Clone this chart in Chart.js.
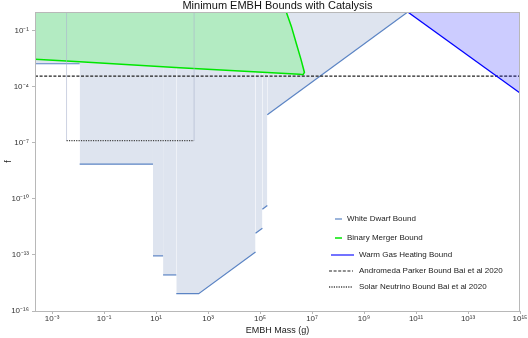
<!DOCTYPE html>
<html>
<head>
<meta charset="utf-8">
<script src="https://cdn.jsdelivr.net/npm/chart.js@4.4.1/dist/chart.umd.min.js"></script>
<style>
    html, body { margin: 0; padding: 0; background: #fff; }
    canvas { display: block; }
</style>
</head>
<body>
<canvas id="chart" width="528" height="338"></canvas>
<script>
// Values (mass in g, f dimensionless)
const xRange = [2.2e-4, 1e15];
const yRange = [1e-16, 1];
const xTicks = [1e-3, 1e-1, 1e1, 1e3, 1e5, 1e7, 1e9, 1e11, 1e13, 1e15];
const yTicks = [1e-16, 1e-13, 1e-10, 1e-7, 1e-4, 1e-1];

// White dwarf bound (step curve, region above is excluded)
const wdMass = [2.2e-4, 1.15e-2, 1.15e-2, 7.6, 7.6, 18.6, 18.6, 60, 60, 436, 6.7e4, 6.7e4, 1.23e5, 1.23e5, 1.9e5, 1.9e5, 4.8e10];
const wdF    = [1.7e-3, 1.7e-3, 7.2e-9, 7.2e-9, 8.9e-14, 8.9e-14, 8.5e-15, 8.5e-15, 8.5e-16, 8.5e-16, 1.45e-13, 1.45e-12, 2.7e-12, 2.8e-11, 4.4e-11, 3.2e-6, 1];

// Binary merger bound
const bmMass = [2.2e-4, 1.15e-2, 81, 3.3e6, 4.5e6, 5.1e6, 3.8e6, 2.45e6, 1.6e6, 1.02e6];
const bmF    = [3.0e-3, 2.2e-3, 1.05e-3, 4.6e-4, 4.4e-4, 5.8e-4, 2.75e-3, 2.2e-2, 0.17, 1];

// Warm gas heating bound
const wgMass = [4.8e10, 1e15];
const wgF    = [1, 4.6e-5];

// Andromeda Parker bound (Bai et al 2020)
const andMass = [2.2e-4, 1e15];
const andF    = [3.7e-4, 3.7e-4];

// Solar neutrino bound (Bai et al 2020), with its side edges
const solMass = [3.6e-3, 3.6e-3, 2.9e2, 2.9e2];
const solF    = [1, 1.3e-7, 1.3e-7, 1];

const FONT = "'Liberation Sans', Arial, sans-serif";

function pts(xs, ys) {
    return xs.map((x, i) => ({ x: x, y: ys[i] }));
}

const SUP = { '-': '\u207B', '0': '\u2070', '1': '\u00B9', '2': '\u00B2', '3': '\u00B3',
              '4': '\u2074', '5': '\u2075', '6': '\u2076', '7': '\u2077', '8': '\u2078', '9': '\u2079' };
function powLabel(v) {
    const e = Math.round(Math.log10(v));
    return '10' + String(e).split('').map(c => SUP[c]).join('');
}

function isVertical(ctx) {
    return ctx.p0.parsed.x === ctx.p1.parsed.x;
}

// Title, frame and the in-plot legend
const decorPlugin = {
    id: 'decor',
    afterDatasetsDraw(chart) {
        const ctx = chart.ctx;
        const a = chart.chartArea;
        ctx.save();
        ctx.strokeStyle = '#b8b8b8';
        ctx.lineWidth = 1;
        ctx.strokeRect(a.left + 0.5, a.top + 0.5, a.right - a.left - 1, a.bottom - a.top);

        // legend
        const rows = [
            { y: 219, x0: 335, x1: 342, tx: 347, color: '#5b84c4', width: 1.2, dash: [] },
            { y: 238, x0: 335, x1: 342, tx: 347, color: '#00e600', width: 1.5, dash: [] },
            { y: 255, x0: 331, x1: 354, tx: 359, color: 'rgba(90,90,255,0.85)', width: 2, dash: [] },
            { y: 271, x0: 329, x1: 353, tx: 359, color: '#222', width: 1.2, dash: [3, 1.6] },
            { y: 287, x0: 329, x1: 353, tx: 359, color: '#444', width: 1.3, dash: [1.2, 1.2] }
        ];
        const labels = ['White Dwarf Bound', 'Binary Merger Bound', 'Warm Gas Heating Bound',
                        'Andromeda Parker Bound Bai et al 2020', 'Solar Neutrino Bound Bai et al 2020'];
        ctx.font = '8px ' + FONT;
        ctx.textBaseline = 'middle';
        ctx.textAlign = 'left';
        rows.forEach((r, i) => {
            ctx.beginPath();
            ctx.setLineDash(r.dash);
            ctx.strokeStyle = r.color;
            ctx.lineWidth = r.width;
            ctx.moveTo(r.x0, r.y);
            ctx.lineTo(r.x1, r.y);
            ctx.stroke();
            ctx.fillStyle = '#222';
            ctx.fillText(labels[i], r.tx, r.y);
        });
        ctx.setLineDash([]);

        // title
        ctx.font = '11px ' + FONT;
        ctx.textAlign = 'center';
        ctx.fillStyle = '#111';
        ctx.fillText('Minimum EMBH Bounds with Catalysis', (a.left + a.right) / 2, 6);
        ctx.restore();
    }
};

// the merger region is closed along the top-left corner of the plot
const bmRegion = pts(bmMass, bmF).concat([{ x: xRange[0], y: yRange[1] }]);

const ctx = document.getElementById('chart').getContext('2d');
new Chart(ctx, {
    type: 'line',
    data: {
        datasets: [
            {
                label: 'White Dwarf Bound',
                data: pts(wdMass, wdF),
                borderColor: '#5b84c4',
                borderWidth: 1.2,
                backgroundColor: '#dee4ef',
                fill: 'end',
                order: 6,
                segment: {
                    borderColor: c => isVertical(c) ? 'rgba(0,0,0,0)' : undefined
                }
            },
            {
                label: 'Warm Gas Heating Bound',
                data: pts(wgMass, wgF),
                borderColor: '#0000ff',
                borderWidth: 1.3,
                backgroundColor: 'rgba(0,0,255,0.2)',
                fill: 'end',
                order: 1
            },
            {
                label: 'Binary Merger region',
                data: bmRegion,
                borderWidth: 0,
                borderColor: 'rgba(0,0,0,0)',
                backgroundColor: '#b3ebc2',
                fill: 'shape',
                order: 5
            },
            {
                label: 'Binary Merger Bound',
                data: pts(bmMass, bmF),
                borderColor: '#00e600',
                borderWidth: 1.5,
                fill: false,
                order: 4
            },
            {
                label: 'Andromeda Parker Bound Bai et al 2020',
                data: pts(andMass, andF),
                borderColor: '#222',
                borderWidth: 1.2,
                borderDash: [3, 1.6],
                fill: false,
                order: 2
            },
            {
                label: 'Solar Neutrino Bound Bai et al 2020',
                data: pts(solMass, solF),
                borderColor: '#444',
                borderWidth: 1.3,
                borderDash: [1.2, 1.2],
                fill: false,
                order: 3,
                segment: {
                    borderColor: c => isVertical(c) ? 'rgba(170,180,205,0.6)' : undefined,
                    borderDash: c => isVertical(c) ? [] : undefined,
                    borderWidth: c => isVertical(c) ? 1 : undefined
                }
            }
        ]
    },
    options: {
        responsive: false,
        animation: false,
        devicePixelRatio: 1,
        elements: {
            point: { radius: 0, hoverRadius: 0 },
            line: { tension: 0 }
        },
        layout: { padding: { top: 12, right: 8, left: 0, bottom: 0 } },
        plugins: {
            legend: { display: false },
            tooltip: { enabled: false },
            title: { display: false }
        },
        events: [],
        scales: {
            x: {
                type: 'logarithmic',
                min: xRange[0],
                max: xRange[1],
                afterBuildTicks: s => { s.ticks = xTicks.map(v => ({ value: v })); },
                afterFit: s => { s.height = 27; },
                ticks: {
                    autoSkip: false,
                    maxRotation: 0,
                    padding: 0,
                    color: '#333',
                    font: { family: FONT, size: 8 },
                    callback: v => powLabel(v)
                },
                grid: { drawOnChartArea: false, tickLength: 3, color: '#b8b8b8' },
                border: { color: '#b8b8b8' },
                title: {
                    display: true,
                    text: 'EMBH Mass (g)',
                    color: '#222',
                    font: { family: FONT, size: 9 },
                    padding: { top: 0, bottom: 2 }
                }
            },
            y: {
                type: 'logarithmic',
                min: yRange[0],
                max: yRange[1],
                afterBuildTicks: s => { s.ticks = yTicks.map(v => ({ value: v })); },
                afterFit: s => { s.width = 35; },
                ticks: {
                    autoSkip: false,
                    padding: 3,
                    color: '#333',
                    font: { family: FONT, size: 8 },
                    callback: v => powLabel(v)
                },
                grid: { drawOnChartArea: false, tickLength: 3, color: '#b8b8b8' },
                border: { color: '#b8b8b8' },
                title: {
                    display: true,
                    text: 'f',
                    color: '#222',
                    font: { family: FONT, size: 9 },
                    padding: { top: 3, bottom: 0 }
                }
            }
        }
    },
    plugins: [decorPlugin]
});
</script>
</body>
</html>
